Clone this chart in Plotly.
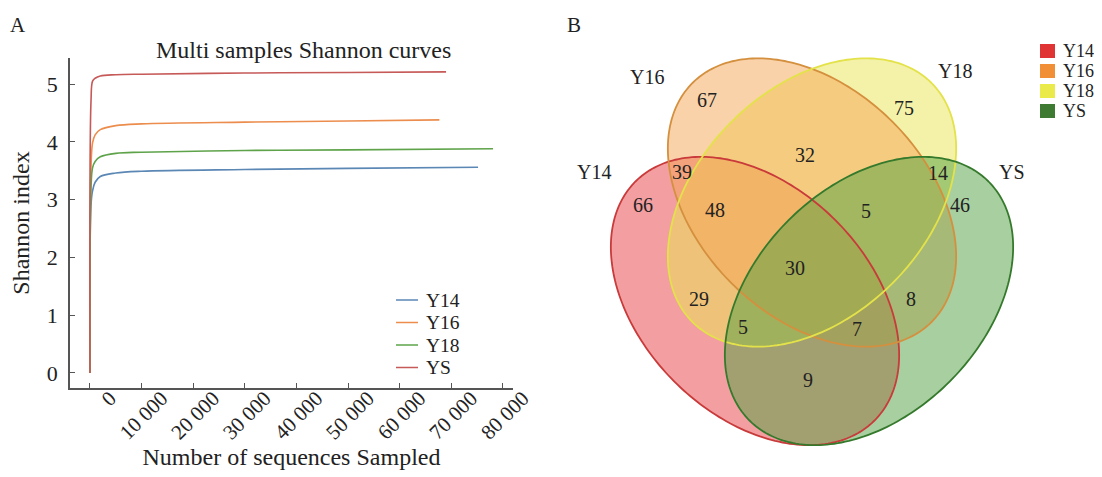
import numpy as np
import plotly.graph_objects as go

# page offset of the figure inside the HTML body (default 8px body margin)
OFF = 8
W, H = 1102, 477
FONT = "Liberation Serif, Times New Roman, serif"

# ---------------- Data: Shannon rarefaction curves ----------------
samples = ["Y14", "Y16", "Y18", "YS"]
seq_y14 = [0, 200, 500, 1000, 2000, 5000, 10000, 30000, 50000, 75200]
sh_y14 = [0, 2.90, 3.15, 3.30, 3.40, 3.46, 3.49, 3.52, 3.54, 3.56]
seq_y16 = [0, 200, 500, 1000, 2000, 5000, 10000, 30000, 50000, 67700]
sh_y16 = [0, 3.55, 3.98, 4.12, 4.21, 4.28, 4.31, 4.34, 4.36, 4.38]
seq_y18 = [0, 200, 500, 1000, 2000, 5000, 10000, 30000, 50000, 78100]
sh_y18 = [0, 3.20, 3.55, 3.66, 3.74, 3.80, 3.82, 3.85, 3.86, 3.88]
seq_ys = [0, 200, 500, 1000, 2000, 5000, 10000, 30000, 50000, 69000]
sh_ys = [0, 4.70, 5.05, 5.10, 5.14, 5.16, 5.17, 5.19, 5.20, 5.21]

x_tickvals = [0, 10000, 20000, 30000, 40000, 50000, 60000, 70000, 80000]
x_ticktext = ["0", "10 000", "20 000", "30 000", "40 000", "50 000", "60 000", "70 000", "80 000"]
y_tickvals = [0, 1, 2, 3, 4, 5]

# ---------------- Data: Venn counts ----------------
venn_sets = ["Y14", "Y16", "Y18", "YS"]
venn_regions = ["Y16", "Y18", "Y16&Y18", "Y14&Y16", "Y14", "Y14&Y16&Y18", "Y16&Y18&YS",
                "Y18&YS", "YS", "all", "Y14&Y18", "Y14&Y18&YS", "Y14&Y16&YS", "Y16&YS", "Y14&YS"]
venn_counts = [67, 75, 32, 39, 66, 48, 5, 14, 46, 30, 29, 5, 7, 8, 9]

# ---------------- Styles / positions (reference pixel coordinates) ----------------
line_colors = {"Y14": "#5b87b5", "Y16": "#ec8d4e", "Y18": "#5ea34a", "YS": "#c65a58"}
fill_colors = {"Y14": "rgba(232,62,68,0.5)", "Y16": "rgba(245,166,86,0.5)",
               "Y18": "rgba(234,230,82,0.5)", "YS": "rgba(82,160,66,0.5)"}
edge_colors = {"Y14": "#c93a3a", "Y16": "#d4903e", "Y18": "#e4e24a", "YS": "#357a2c"}
legend_sq = {"Y14": "#e03434", "Y16": "#f08f36", "Y18": "#eaea4a", "YS": "#3f7a33"}
fill_order = ["Y14", "Y18", "Y16", "YS"]

ell_a, ell_b = 169, 114
ell_geom = {"Y14": (755, 301, 45), "Y16": (812, 202.5, 45),
            "Y18": (812, 202.5, -45), "YS": (869, 301, -45)}
set_label_pos = {"Y14": (594, 172), "Y16": (647, 77), "Y18": (955, 71), "YS": (1012, 172)}
region_pos = [(707, 100), (904, 108), (805, 155), (682, 172), (643, 205), (715, 210), (866, 211),
              (938, 173), (960, 205), (795, 268), (699, 299), (743, 327), (857, 329), (911, 299),
              (808, 380)]
leg1_y = {"Y14": 300, "Y16": 322.5, "Y18": 345, "YS": 367.5}
leg2_y = {"Y14": 51, "Y16": 71, "Y18": 91, "YS": 111}

fig = go.Figure()

series = {"Y14": (seq_y14, sh_y14), "Y16": (seq_y16, sh_y16),
          "Y18": (seq_y18, sh_y18), "YS": (seq_ys, sh_ys)}
for s in samples:
    xs, ys = series[s]
    fig.add_trace(go.Scatter(x=xs, y=ys, mode="lines", name=s, line_shape="spline",
                             line=dict(color=line_colors[s], width=1.6),
                             xaxis="x", yaxis="y", showlegend=False))

shapes = []
annotations = []
TXT = "#222"

# left legend (line samples + labels)
for s in samples:
    yy = leg1_y[s]
    shapes.append(dict(type="line", xref="x2", yref="y2", x0=396, x1=418, y0=yy, y1=yy,
                       line=dict(color=line_colors[s], width=1.5)))
    annotations.append(dict(x=424, y=yy, xref="x2", yref="y2", text=s, showarrow=False,
                            xanchor="left", yanchor="middle",
                            font=dict(family=FONT, size=19.5, color=TXT)))

# Venn ellipses: fills first, then outlines
t = np.linspace(0, 2 * np.pi, 241)
paths = {}
for s in venn_sets:
    cx, cy, ang = ell_geom[s]
    phi = np.deg2rad(ang)
    ex = cx + ell_a * np.cos(t) * np.cos(phi) - ell_b * np.sin(t) * np.sin(phi)
    ey = cy + ell_a * np.cos(t) * np.sin(phi) + ell_b * np.sin(t) * np.cos(phi)
    paths[s] = "M " + " L ".join(f"{x:.2f},{y:.2f}" for x, y in zip(ex, ey)) + " Z"
for s in fill_order:
    shapes.append(dict(type="path", path=paths[s], xref="x2", yref="y2",
                       fillcolor=fill_colors[s], line=dict(width=0), layer="above"))
for s in venn_sets:
    shapes.append(dict(type="path", path=paths[s], xref="x2", yref="y2",
                       fillcolor="rgba(0,0,0,0)", line=dict(color=edge_colors[s], width=1.8),
                       layer="above"))

# Venn legend (squares + labels)
for s in venn_sets:
    yy = leg2_y[s]
    shapes.append(dict(type="rect", xref="x2", yref="y2", x0=1040, x1=1055, y0=yy - 7, y1=yy + 7,
                       fillcolor=legend_sq[s], line=dict(width=0)))
    annotations.append(dict(x=1061, y=yy, xref="x2", yref="y2", text=s, showarrow=False,
                            xanchor="left", yanchor="middle",
                            font=dict(family=FONT, size=18, color=TXT)))

for s in venn_sets:
    x, y = set_label_pos[s]
    annotations.append(dict(x=x, y=y, xref="x2", yref="y2", text=s, showarrow=False,
                            font=dict(family=FONT, size=20, color=TXT)))
for c, (x, y) in zip(venn_counts, region_pos):
    annotations.append(dict(x=x, y=y, xref="x2", yref="y2", text=str(c), showarrow=False,
                            font=dict(family=FONT, size=20, color=TXT)))
annotations += [
    dict(x=18, y=25, xref="x2", yref="y2", text="A", showarrow=False,
         font=dict(family=FONT, size=21, color=TXT)),
    dict(x=574, y=25, xref="x2", yref="y2", text="B", showarrow=False,
         font=dict(family=FONT, size=21, color=TXT)),
    dict(x=303, y=50, xref="x2", yref="y2", text="Multi samples Shannon curves", showarrow=False,
         font=dict(family=FONT, size=24, color=TXT)),
]

axis_col = "#555"
fig.update_layout(
    width=W, height=H, margin=dict(l=0, r=0, t=0, b=0, autoexpand=False),
    autosize=False,
    paper_bgcolor="white", plot_bgcolor="rgba(0,0,0,0)",
    font=dict(family=FONT, color=TXT),
    xaxis=dict(domain=[(70 - OFF) / W, (513 - OFF) / W], range=[-3870, 81970], anchor="y",
               showline=True, linecolor=axis_col, linewidth=1.6, showgrid=False, zeroline=False,
               ticks="inside", ticklen=5, tickcolor=axis_col, tickwidth=1.2,
               tickvals=x_tickvals, ticktext=x_ticktext, tickangle=-45,
               ticklabelshift=20, ticklabelstandoff=-12, automargin=False,
               tickfont=dict(family=FONT, size=21, color=TXT),
               title=dict(text="Number of sequences Sampled", standoff=0,
                          font=dict(family=FONT, size=24, color=TXT))),
    yaxis=dict(domain=[1 - (388 - OFF) / H, 1 - (58 - OFF) / H], range=[-0.26, 5.45], anchor="x",
               showline=True, linecolor=axis_col, linewidth=1.6, showgrid=False, zeroline=False,
               ticks="inside", ticklen=5, tickcolor=axis_col, tickwidth=1.2,
               tickvals=y_tickvals, ticklabelstandoff=6, automargin=False,
               tickfont=dict(family=FONT, size=22, color=TXT),
               title=dict(text="Shannon index", standoff=10,
                          font=dict(family=FONT, size=24, color=TXT))),
    xaxis2=dict(domain=[0, 1], range=[OFF, OFF + W], anchor="y2", visible=False,
                fixedrange=True, automargin=False),
    yaxis2=dict(domain=[0, 1], range=[OFF + H, OFF], anchor="x2", visible=False,
                fixedrange=True, automargin=False),
    shapes=shapes, annotations=annotations, showlegend=False,
)

fig.write_html("out.html")
